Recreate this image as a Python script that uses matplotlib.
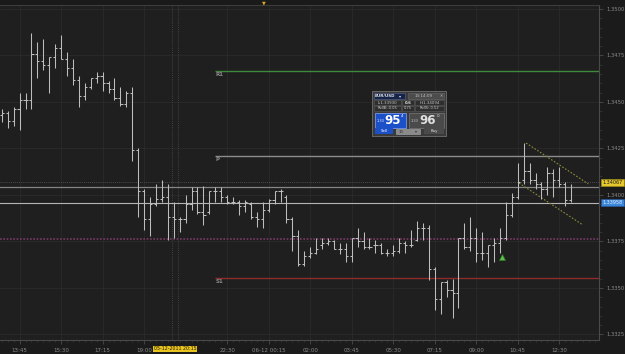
import matplotlib
matplotlib.use("Agg")
import matplotlib.pyplot as plt
from matplotlib.patches import Rectangle
from matplotlib.transforms import blended_transform_factory
from matplotlib.ticker import FixedLocator, MultipleLocator

# ---------------- data (EUR/USD, M15) ----------------
opens = [1.3443, 1.3444, 1.3440, 1.3446, 1.3451, 1.3451, 1.3476, 1.3472, 1.3470, 1.3474,
         1.3479, 1.3473, 1.3468, 1.3462, 1.3453, 1.3458, 1.3463, 1.3464, 1.3460, 1.3457,
         1.3452, 1.3449, 1.3455, 1.3424, 1.3402, 1.3387, 1.3395, 1.3398, 1.3399, 1.3388,
         1.3387, 1.3387, 1.3395, 1.3402, 1.3391, 1.3391, 1.3402, 1.3402, 1.3399, 1.3396,
         1.3396, 1.3394, 1.3395, 1.3388, 1.3387, 1.3392, 1.3397, 1.3402, 1.3399, 1.3387,
         1.3378, 1.3363, 1.3367, 1.3369, 1.3373, 1.3374, 1.3375, 1.3371, 1.3371, 1.3367,
         1.3377, 1.3375, 1.3372, 1.3373, 1.3373, 1.3369, 1.3369, 1.3370, 1.3374, 1.3373,
         1.3376, 1.3382, 1.3382, 1.3360, 1.3344, 1.3353, 1.3349, 1.3347, 1.3377, 1.3372,
         1.3377, 1.3369, 1.3369, 1.3373, 1.3374, 1.3377, 1.3389, 1.3399, 1.3408, 1.3413,
         1.3408, 1.3406, 1.3403, 1.3412, 1.3408, 1.3406, 1.3397]
highs = [1.3446, 1.3445, 1.3447, 1.3455, 1.3455, 1.3487, 1.3482, 1.3484, 1.3474, 1.3481,
         1.3486, 1.3477, 1.3473, 1.3464, 1.3460, 1.3463, 1.3466, 1.3466, 1.3461, 1.3463,
         1.3458, 1.3456, 1.3458, 1.3425, 1.3403, 1.3399, 1.3406, 1.3408, 1.3406, 1.3396,
         1.3388, 1.3400, 1.3404, 1.3404, 1.3405, 1.3402, 1.3404, 1.3404, 1.3400, 1.3399,
         1.3397, 1.3397, 1.3396, 1.3391, 1.3396, 1.3398, 1.3402, 1.3403, 1.3400, 1.3388,
         1.3381, 1.3370, 1.3372, 1.3377, 1.3377, 1.3377, 1.3376, 1.3374, 1.3374, 1.3377,
         1.3382, 1.3380, 1.3377, 1.3376, 1.3374, 1.3371, 1.3373, 1.3377, 1.3375, 1.3381,
         1.3386, 1.3385, 1.3384, 1.3361, 1.3353, 1.3354, 1.3355, 1.3377, 1.3385, 1.3388,
         1.3382, 1.3380, 1.3373, 1.3377, 1.3382, 1.3396, 1.3401, 1.3417, 1.3428, 1.3417,
         1.3412, 1.3407, 1.3415, 1.3414, 1.3415, 1.3407, 1.3406]
lows = [1.3439, 1.3436, 1.3437, 1.3435, 1.3446, 1.3446, 1.3463, 1.3467, 1.3455, 1.3468,
        1.3473, 1.3464, 1.3459, 1.3447, 1.3451, 1.3457, 1.3460, 1.3456, 1.3455, 1.3451,
        1.3448, 1.3447, 1.3418, 1.3388, 1.3381, 1.3378, 1.3394, 1.3396, 1.3376, 1.3377,
        1.3380, 1.3385, 1.3392, 1.3390, 1.3384, 1.3390, 1.3396, 1.3396, 1.3395, 1.3395,
        1.3389, 1.3391, 1.3387, 1.3383, 1.3382, 1.3391, 1.3395, 1.3396, 1.3385, 1.3370,
        1.3362, 1.3362, 1.3366, 1.3368, 1.3371, 1.3373, 1.3371, 1.3368, 1.3364, 1.3364,
        1.3372, 1.3371, 1.3371, 1.3369, 1.3368, 1.3367, 1.3367, 1.3369, 1.3369, 1.3372,
        1.3375, 1.3376, 1.3354, 1.3338, 1.3336, 1.3345, 1.3334, 1.3339, 1.3371, 1.3370,
        1.3364, 1.3365, 1.3361, 1.3364, 1.3369, 1.3376, 1.3388, 1.3398, 1.3406, 1.3406,
        1.3403, 1.3398, 1.3400, 1.3399, 1.3404, 1.3394, 1.3396]
closes = [1.3444, 1.3440, 1.3446, 1.3451, 1.3451, 1.3476, 1.3472, 1.3470, 1.3474, 1.3479,
          1.3473, 1.3468, 1.3462, 1.3453, 1.3458, 1.3463, 1.3464, 1.3460, 1.3457, 1.3452,
          1.3449, 1.3455, 1.3424, 1.3402, 1.3387, 1.3395, 1.3398, 1.3399, 1.3388, 1.3387,
          1.3387, 1.3395, 1.3402, 1.3391, 1.3389, 1.3402, 1.3402, 1.3399, 1.3396, 1.3396,
          1.3394, 1.3396, 1.3388, 1.3387, 1.3392, 1.3397, 1.3402, 1.3402, 1.3387, 1.3378,
          1.3363, 1.3367, 1.3369, 1.3371, 1.3374, 1.3375, 1.3371, 1.3371, 1.3367, 1.3377,
          1.3375, 1.3372, 1.3372, 1.3373, 1.3369, 1.3369, 1.3370, 1.3374, 1.3373, 1.3373,
          1.3382, 1.3382, 1.3360, 1.3344, 1.3353, 1.3349, 1.3347, 1.3377, 1.3372, 1.3377,
          1.3369, 1.3369, 1.3373, 1.3374, 1.3377, 1.3389, 1.3399, 1.3407, 1.3413, 1.3408,
          1.3406, 1.3403, 1.3412, 1.3408, 1.3406, 1.3397, 1.33958]

time_labels = ["13:45", "15:30", "17:15", "19:00", "22:30", "06-12 00:15", "02:00",
               "03:45", "05:30", "07:15", "09:00", "10:45", "12:30"]
time_label_bars = [3, 10, 17, 24, 38, 45, 52, 59, 66, 73, 80, 87, 94]
cursor_label = "05-12-2011 20:15"
cursor_bar = 29

price_ticks = [1.3325, 1.3350, 1.3375, 1.3400, 1.3425, 1.3450, 1.3475, 1.3500]
price_tick_labels = ["1.3325", "1.3350", "1.3375", "1.3400", "1.3425", "1.3450", "1.3475", "1.3500"]

pivot_names = ["R1", "P", "S1"]
pivot_levels = [1.34667, 1.34210, 1.33554]
pivot_colors = ["#3f8a3a", "#8c8c8c", "#8e2c2c"]
pivot_start_bar = 36

last_price = 1.34067
ask_line = 1.34043
bid_price = 1.33958
red_dotted_level = 1.33763

channel_upper_x = [88.4, 98.9]
channel_upper_y = [1.34279, 1.34059]
channel_lower_x = [87.2, 98.0]
channel_lower_y = [1.34064, 1.33838]

signal_bar = 84.4
signal_price = 1.33666

# ---------------- figure ----------------
W, H = 625, 354
fig = plt.figure(figsize=(W / 100, H / 100), dpi=100)
fig.patch.set_facecolor("#1b1b1b")

ax = fig.add_axes([0 / W, 1 - 340 / H, 599 / W, (340 - 5) / H])
ax.set_facecolor("#1f1f1f")
n = len(opens)
idx = list(range(n))

ax.set_xlim(-0.3, 100.7)
ax.set_ylim(1.33220, 1.35021)

# grid
for p in price_ticks:
    ax.axhline(p, color="#2a2a2a", lw=0.6, zorder=0)
for b in time_label_bars:
    ax.axvline(b, color="#2a2a2a", lw=0.6, zorder=0)
ax.axvline(cursor_bar - 0.35, color="#4a4a4a", lw=0.6, ls=(0, (1, 1.5)), zorder=1)
ax.axvline(cursor_bar + 0.75, color="#4a4a4a", lw=0.6, ls=(0, (1, 1.5)), zorder=1)

# level lines
ax.axhline(red_dotted_level, color="#7a3a66", lw=1.2, ls=(0, (1, 1)), zorder=1)
ax.axhline(last_price, color="#5a5a5a", lw=0.6, ls=(0, (1, 1.5)), zorder=1)
ax.axhline(ask_line, color="#858585", lw=0.9, zorder=1)
ax.axhline(bid_price, color="#b5b5b5", lw=0.8, zorder=1)

for name, lvl, col in zip(pivot_names, pivot_levels, pivot_colors):
    ax.hlines(lvl, pivot_start_bar, 100.7, color=col, lw=1.0, zorder=1)
    ax.text(pivot_start_bar + 0.1, lvl - 0.00006, name, color="#8a8a8a",
            fontsize=4.0, va="top", ha="left", fontweight="bold")

# OHLC bars
bar_col = "#bdbdbd"
ax.vlines(idx, lows, highs, color=bar_col, lw=0.75, zorder=3)
ax.hlines(opens, [i - 0.36 for i in idx], idx, color=bar_col, lw=0.75, zorder=3)
ax.hlines(closes, idx, [i + 0.36 for i in idx], color=bar_col, lw=0.75, zorder=3)

# channel
ax.plot(channel_upper_x, channel_upper_y, color="#8c8c3a", lw=0.8, ls=(0, (1.5, 1.5)), zorder=2)
ax.plot(channel_lower_x, channel_lower_y, color="#8c8c3a", lw=0.8, ls=(0, (1.5, 1.5)), zorder=2)

# signal arrow
ax.plot([signal_bar], [signal_price], marker="^", ms=4.5, color="#5cc24a",
        markeredgecolor="#2e7a24", markeredgewidth=0.5, zorder=4)

# axes styling
for s in ["left", "top"]:
    ax.spines[s].set_visible(False)
ax.spines["right"].set_color("#4a4a4a")
ax.spines["bottom"].set_color("#4a4a4a")
ax.spines["right"].set_linewidth(0.8)
ax.spines["bottom"].set_linewidth(0.8)

ax.yaxis.tick_right()
ax.yaxis.set_major_locator(FixedLocator(price_ticks))
ax.set_yticklabels(price_tick_labels)
ax.yaxis.set_minor_locator(MultipleLocator(0.0005))
ax.tick_params(axis="y", which="major", colors="#4a4a4a", labelcolor="#8a8a8a",
               labelsize=3.8, length=3, width=0.6, pad=2)
ax.tick_params(axis="y", which="minor", colors="#3a3a3a", length=2, width=0.5)

ax.xaxis.set_major_locator(FixedLocator(time_label_bars))
ax.set_xticklabels(time_labels)
ax.xaxis.set_minor_locator(MultipleLocator(1))
ax.tick_params(axis="x", which="major", colors="#4a4a4a", labelcolor="#8a8a8a",
               labelsize=4.0, length=3, width=0.6, pad=2.5)
ax.tick_params(axis="x", which="minor", colors="#3a3a3a", length=1.5, width=0.5)

# top border strip
fig.add_artist(Rectangle((0, 1 - 5 / H), 1, 5 / H, transform=fig.transFigure,
                         facecolor="#1a1a1a", edgecolor="none"))
fig.add_artist(plt.Line2D([0, 599 / W], [1 - 5 / H, 1 - 5 / H], transform=fig.transFigure,
                          color="#3c3c3c", lw=0.8))
fig.text(264 / W, 1 - 3 / H, "▼", color="#d8a820", fontsize=3.5, ha="center", va="center")

# price labels on right axis
bt = blended_transform_factory(fig.transFigure, ax.transData)
ax.text(612.5 / W, last_price, f"{last_price:.5f}", transform=bt, fontsize=3.5,
        color="#1a1a1a", ha="center", va="center", clip_on=False,
        bbox=dict(boxstyle="square,pad=0.25", facecolor="#e6c82e", edgecolor="#a08a10", lw=0.5))
ax.text(612.5 / W, bid_price, f"{bid_price:.5f}", transform=bt, fontsize=3.5,
        color="#e8f0ff", ha="center", va="center", clip_on=False,
        bbox=dict(boxstyle="square,pad=0.25", facecolor="#3a86d8", edgecolor="#2a5aa0", lw=0.5))

# cursor time label
bx = blended_transform_factory(ax.transData, fig.transFigure)
ax.text(cursor_bar + 0.2, 1 - 349 / H, cursor_label, transform=bx, fontsize=3.4,
        color="#2a2000", ha="center", va="center", clip_on=False,
        bbox=dict(boxstyle="square,pad=0.2", facecolor="#e8c420", edgecolor="none"))

# ---------------- trading panel ----------------
def prect(x, y, w, h, fc, ec="none", lw=0.5):
    fig.add_artist(Rectangle((x / W, 1 - (y + h) / H), w / W, h / H, transform=fig.transFigure,
                             facecolor=fc, edgecolor=ec, lw=lw, zorder=10))

def ptext(x, y, s, size=3.2, color="#d0d0d0", ha="center", weight="normal"):
    fig.text(x / W, 1 - y / H, s, fontsize=size, color=color, ha=ha, va="center",
             fontweight=weight, zorder=11)

prect(372, 91, 74, 45, "#3a3a3a", "#707070", 0.6)
prect(374, 93, 31, 6, "#16244a", "#5a6a8a", 0.4)
ptext(385, 96, "EUR/USD", 3.0, "#e0e0e0", weight="bold")
ptext(400, 96, "▾", 3.0, "#e0e0e0")
prect(408, 93, 36, 6, "#4c4c4c", "#6a6a6a", 0.4)
ptext(424, 96, "13:14:09", 3.0, "#c0c0c0")
ptext(441, 96, "✕", 2.8, "#c0c0c0")

prect(374, 100, 27, 5, "#2e2e2e", "#5a5a5a", 0.4)
ptext(387.5, 102.5, "L:1.33930", 2.8, "#c8c8c8")
prect(402, 100, 12, 5, "#2e2e2e", "#5a5a5a", 0.4)
ptext(408, 102.5, "0.6", 2.8, "#e0e0e0", weight="bold")
prect(415, 100, 29, 5, "#2e2e2e", "#5a5a5a", 0.4)
ptext(429.5, 102.5, "H:1.34094", 2.8, "#c8c8c8")

prect(374, 106, 27, 5, "#2e2e2e", "#5a5a5a", 0.4)
ptext(387.5, 108.5, "RollB:-0.05", 2.6, "#c8c8c8")
prect(402, 106, 12, 5, "#2e2e2e", "#5a5a5a", 0.4)
ptext(408, 108.5, "0.75", 2.6, "#c8c8c8")
prect(415, 106, 29, 5, "#2e2e2e", "#5a5a5a", 0.4)
ptext(429.5, 108.5, "RollS:-0.52", 2.6, "#c8c8c8")

prect(375, 113, 31, 15, "#1c50c8", "#8aa8ff", 0.5)
ptext(381, 121, "1.33", 2.6, "#e0e8ff")
ptext(393, 120.5, "95", 8.5, "#ffffff", weight="bold")
ptext(402, 116.5, "4", 3.0, "#ffffff")
prect(409, 113, 35, 15, "#4a4a4a", "#7a7a7a", 0.5)
ptext(415, 121, "1.33", 2.6, "#c8c8c8")
ptext(428, 120.5, "96", 8.5, "#e0e0e0", weight="bold")
ptext(438, 116.5, "0", 3.0, "#e0e0e0")

prect(375, 128, 18, 6, "#1c50c8", "none")
ptext(384, 131, "Sell", 2.8, "#ffffff")
prect(396, 129, 24, 5, "#8a8a8a", "#aaaaaa", 0.4)
ptext(401, 131.5, "10", 2.8, "#303030")
ptext(416, 131.5, "▾", 2.8, "#303030")
prect(424, 128, 20, 6, "#4a4a4a", "none")
ptext(434, 131, "Buy", 2.8, "#e0e0e0")

fig.savefig("out.png", dpi=100, facecolor=fig.get_facecolor())
